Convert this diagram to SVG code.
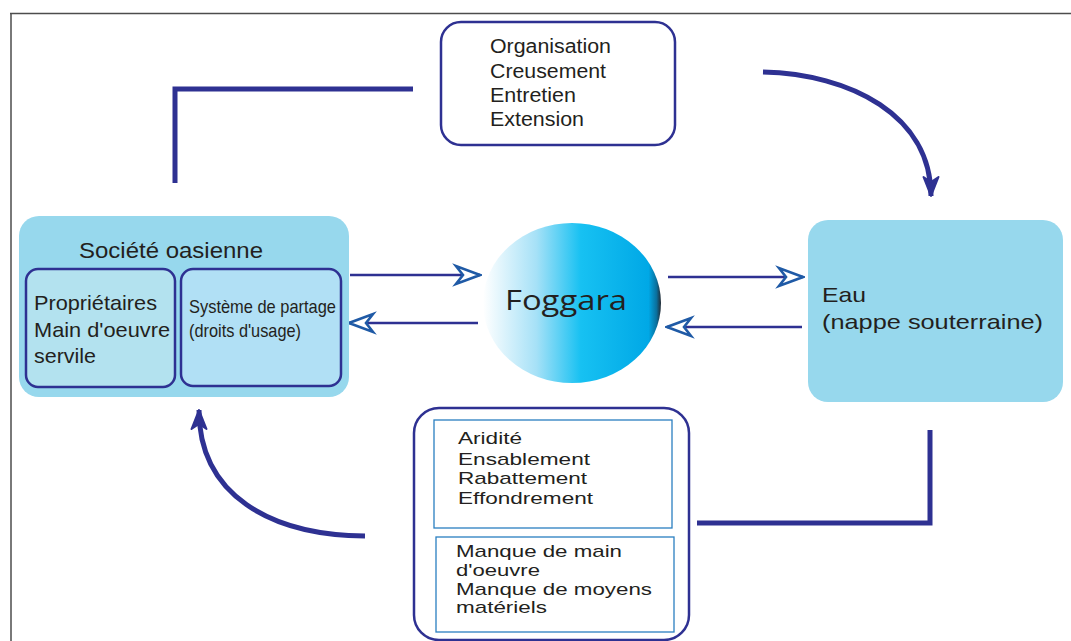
<svg xmlns="http://www.w3.org/2000/svg" width="1071" height="641" viewBox="0 0 1071 641">
<defs>
<style>
.t{font-family:"Liberation Sans",Arial,sans-serif;fill:#231f20}
.node{stroke:#2e3192;stroke-width:2.5}
.inner{fill:none;stroke:#2a7fc1;stroke-width:1.3}
.thin{fill:none;stroke:#2e3192;stroke-width:2.6}
.thick{fill:none;stroke:#2e3192;stroke-width:5}
</style>
<linearGradient id="gf" x1="0" y1="0" x2="1" y2="0">
<stop offset="0" stop-color="#ffffff"/>
<stop offset="0.3" stop-color="#a6e1f7"/>
<stop offset="0.55" stop-color="#17c1f2"/>
<stop offset="0.93" stop-color="#00a8e6"/>
<stop offset="0.975" stop-color="#0a6f9c"/>
<stop offset="1" stop-color="#232a33"/>
</linearGradient>
<marker id="open" viewBox="-28 -12 30 24" refX="0" refY="0" markerWidth="30" markerHeight="24" markerUnits="userSpaceOnUse" orient="auto">
<path d="M0,0 L-24,-9 L-17,0 L-24,9 Z" fill="#fff" stroke="#1f5aa6" stroke-width="2.6" stroke-linejoin="miter"/>
</marker>
<marker id="solid" viewBox="-24 -12 26 24" refX="0" refY="0" markerWidth="26" markerHeight="24" markerUnits="userSpaceOnUse" orient="auto">
<path d="M0,0 L-19,-7.5 L-14,0 L-19,7.5 Z" fill="#2e3192" stroke="#2e3192" stroke-width="2" stroke-linejoin="round"/>
</marker>
</defs>
<rect width="1071" height="641" fill="#fff"/>
<path d="M10 13.5 H1071 M11 13 V641" fill="none" stroke="#4d4d4d" stroke-width="1.5"/>

<g id="connectors">
<path class="thick" d="M175 183 V89 H413"/>
<path class="thick" d="M930 430 V523 H697"/>
<path class="thick" d="M763 72 C850 74 931 115 931 196" marker-end="url(#solid)"/>
<path class="thick" d="M365 536 C270 535 199 495 199 410" marker-end="url(#solid)"/>
<path class="thin" d="M350 275 H480" marker-end="url(#open)"/>
<path class="thin" d="M478 323 H349" marker-end="url(#open)"/>
<path class="thin" d="M668 277 H803" marker-end="url(#open)"/>
<path class="thin" d="M802 327 H667" marker-end="url(#open)"/>
</g>

<g id="actions">
<rect class="node" x="441" y="22" width="234" height="123" rx="20" fill="#fff"/>
<text class="t" font-size="20"><tspan x="490" y="53" textLength="121" lengthAdjust="spacingAndGlyphs">Organisation</tspan><tspan x="490" y="78" textLength="116" lengthAdjust="spacingAndGlyphs">Creusement</tspan><tspan x="490" y="102" textLength="86" lengthAdjust="spacingAndGlyphs">Entretien</tspan><tspan x="490" y="126" textLength="94" lengthAdjust="spacingAndGlyphs">Extension</tspan></text>
</g>

<g id="societe">
<rect x="19" y="216" width="330" height="181" rx="20" fill="#97d8ed"/>
<text class="t" font-size="22" x="79" y="258" textLength="184" lengthAdjust="spacingAndGlyphs">Société oasienne</text>
<rect class="node" x="26" y="269" width="149" height="118" rx="12" fill="#b3e2ef"/>
<text class="t" font-size="21"><tspan x="34" y="310" textLength="123" lengthAdjust="spacingAndGlyphs">Propriétaires</tspan><tspan x="34" y="337" textLength="136" lengthAdjust="spacingAndGlyphs">Main d'oeuvre</tspan><tspan x="34" y="363" textLength="62" lengthAdjust="spacingAndGlyphs">servile</tspan></text>
<rect class="node" x="181" y="269" width="160" height="117" rx="12" fill="#b1e0f5"/>
<text class="t" font-size="19"><tspan x="189" y="313" textLength="147" lengthAdjust="spacingAndGlyphs">Système de partage</tspan><tspan x="189" y="337" textLength="112" lengthAdjust="spacingAndGlyphs">(droits d'usage)</tspan></text>
</g>

<g id="foggara">
<ellipse cx="572" cy="303" rx="89" ry="80" fill="url(#gf)"/>
<text font-family="'Open Sans','Liberation Sans',sans-serif" fill="#231f20" font-size="28" x="505" y="310" textLength="122" lengthAdjust="spacingAndGlyphs">Foggara</text>
</g>

<g id="eau">
<rect x="808" y="220" width="255" height="182" rx="20" fill="#97d8ed"/>
<text class="t" font-size="21"><tspan x="822" y="302" textLength="44" lengthAdjust="spacingAndGlyphs">Eau</tspan><tspan x="822" y="329" textLength="221" lengthAdjust="spacingAndGlyphs">(nappe souterraine)</tspan></text>
</g>

<g id="contraintes">
<rect class="node" x="414" y="408" width="275" height="232" rx="25" fill="#fff"/>
<rect class="inner" x="434" y="420" width="238" height="108"/>
<text class="t" font-size="17"><tspan x="458" y="444" textLength="64" lengthAdjust="spacingAndGlyphs">Aridité</tspan><tspan x="458" y="465" textLength="132" lengthAdjust="spacingAndGlyphs">Ensablement</tspan><tspan x="458" y="484" textLength="129" lengthAdjust="spacingAndGlyphs">Rabattement</tspan><tspan x="458" y="504" textLength="135" lengthAdjust="spacingAndGlyphs">Effondrement</tspan></text>
<rect class="inner" x="436" y="537" width="238" height="95"/>
<text class="t" font-size="17"><tspan x="456" y="557" textLength="166" lengthAdjust="spacingAndGlyphs">Manque de main</tspan><tspan x="456" y="576" textLength="84" lengthAdjust="spacingAndGlyphs">d'oeuvre</tspan><tspan x="456" y="595" textLength="196" lengthAdjust="spacingAndGlyphs">Manque de moyens</tspan><tspan x="456" y="613" textLength="91" lengthAdjust="spacingAndGlyphs">matériels</tspan></text>
</g>
</svg>
